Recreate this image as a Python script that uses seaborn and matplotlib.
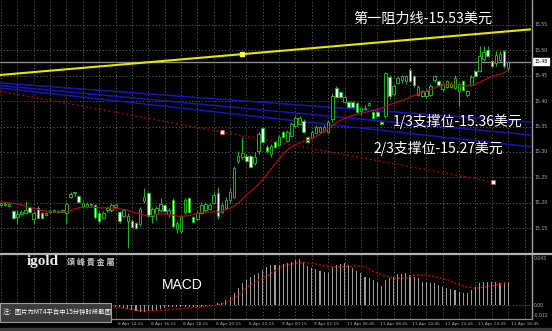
import matplotlib
matplotlib.use("Agg")
import matplotlib.pyplot as plt
import matplotlib.transforms as mtransforms
from matplotlib.lines import Line2D
from matplotlib.patches import Rectangle
import numpy as np
import pandas as pd
import seaborn as sns

# ---------------- data: XAG 15-minute bars ----------------
opens = [
    15.196, 15.195, 15.194, 15.183, 15.172, 15.178, 15.180, 15.192, 15.168, 15.190,
    15.180, 15.176, 15.181, 15.182, 15.181, 15.182, 15.180, 15.212, 15.220, 15.213,
    15.193, 15.192, 15.196, 15.195, 15.180, 15.170, 15.185, 15.185, 15.192, 15.182,
    15.175, 15.165, 15.165, 15.160, 15.158, 15.203, 15.220, 15.174, 15.178, 15.186,
    15.195, 15.178, 15.205, 15.148, 15.145, 15.182, 15.209, 15.173, 15.168, 15.180,
    15.186, 15.188, 15.200, 15.220, 15.182, 15.190, 15.205, 15.212, 15.282, 15.290,
    15.292, 15.292, 15.278, 15.301, 15.348, 15.310, 15.296, 15.320, 15.314, 15.340,
    15.322, 15.332, 15.352, 15.355, 15.362, 15.330, 15.327, 15.337, 15.340, 15.342,
    15.340, 15.365, 15.425, 15.419, 15.399, 15.399, 15.399, 15.396, 15.380, 15.385,
    15.392, 15.379, 15.379, 15.360, 15.370, 15.448, 15.414, 15.436, 15.441, 15.440,
    15.462, 15.449, 15.412, 15.411, 15.410, 15.413, 15.441, 15.440, 15.424, 15.428,
    15.428, 15.426, 15.421, 15.440, 15.412, 15.432, 15.459, 15.460, 15.483, 15.500,
    15.479, 15.475, 15.481, 15.499, 15.466,
]
highs = [
    15.202, 15.201, 15.200, 15.186, 15.185, 15.186, 15.203, 15.194, 15.184, 15.193,
    15.182, 15.182, 15.187, 15.188, 15.186, 15.187, 15.202, 15.221, 15.222, 15.215,
    15.202, 15.201, 15.200, 15.197, 15.182, 15.183, 15.191, 15.200, 15.200, 15.184,
    15.188, 15.180, 15.168, 15.163, 15.192, 15.229, 15.222, 15.192, 15.194, 15.209,
    15.198, 15.190, 15.209, 15.165, 15.176, 15.209, 15.212, 15.175, 15.183, 15.202,
    15.202, 15.200, 15.222, 15.232, 15.202, 15.212, 15.229, 15.272, 15.301, 15.330,
    15.296, 15.294, 15.300, 15.340, 15.350, 15.314, 15.315, 15.322, 15.333, 15.342,
    15.343, 15.360, 15.370, 15.370, 15.364, 15.332, 15.343, 15.353, 15.352, 15.353,
    15.363, 15.416, 15.429, 15.421, 15.412, 15.401, 15.401, 15.398, 15.389, 15.392,
    15.399, 15.381, 15.381, 15.362, 15.458, 15.452, 15.434, 15.450, 15.452, 15.452,
    15.466, 15.452, 15.431, 15.423, 15.424, 15.433, 15.452, 15.442, 15.436, 15.442,
    15.437, 15.451, 15.436, 15.442, 15.423, 15.451, 15.462, 15.508, 15.508, 15.508,
    15.482, 15.499, 15.499, 15.500, 15.480,
]
lows = [
    15.194, 15.193, 15.192, 15.169, 15.158, 15.176, 15.178, 15.180, 15.160, 15.168,
    15.168, 15.174, 15.179, 15.181, 15.180, 15.181, 15.160, 15.210, 15.214, 15.200,
    15.190, 15.190, 15.194, 15.169, 15.160, 15.168, 15.181, 15.181, 15.189, 15.160,
    15.172, 15.112, 15.150, 15.148, 15.155, 15.199, 15.173, 15.160, 15.166, 15.182,
    15.181, 15.173, 15.150, 15.140, 15.140, 15.178, 15.180, 15.160, 15.166, 15.178,
    15.180, 15.185, 15.198, 15.168, 15.180, 15.188, 15.200, 15.209, 15.278, 15.284,
    15.280, 15.268, 15.274, 15.297, 15.317, 15.298, 15.291, 15.308, 15.312, 15.328,
    15.320, 15.330, 15.350, 15.353, 15.338, 15.318, 15.325, 15.335, 15.338, 15.340,
    15.338, 15.360, 15.407, 15.407, 15.396, 15.386, 15.387, 15.377, 15.373, 15.382,
    15.390, 15.364, 15.368, 15.354, 15.366, 15.405, 15.410, 15.434, 15.436, 15.434,
    15.438, 15.428, 15.410, 15.409, 15.407, 15.410, 15.438, 15.429, 15.421, 15.426,
    15.425, 15.424, 15.390, 15.420, 15.409, 15.430, 15.448, 15.458, 15.480, 15.487,
    15.468, 15.470, 15.478, 15.466, 15.460,
]
closes = [
    15.199, 15.198, 15.197, 15.171, 15.178, 15.182, 15.186, 15.182, 15.180, 15.170,
    15.170, 15.179, 15.184, 15.185, 15.184, 15.185, 15.198, 15.218, 15.221, 15.202,
    15.199, 15.198, 15.198, 15.172, 15.165, 15.180, 15.189, 15.195, 15.196, 15.165,
    15.185, 15.175, 15.152, 15.150, 15.188, 15.211, 15.175, 15.188, 15.190, 15.197,
    15.183, 15.186, 15.155, 15.160, 15.172, 15.205, 15.182, 15.163, 15.180, 15.196,
    15.198, 15.195, 15.216, 15.175, 15.195, 15.206, 15.222, 15.268, 15.292, 15.298,
    15.282, 15.270, 15.291, 15.336, 15.320, 15.301, 15.312, 15.310, 15.330, 15.330,
    15.340, 15.356, 15.366, 15.366, 15.340, 15.320, 15.340, 15.350, 15.350, 15.350,
    15.360, 15.410, 15.409, 15.409, 15.409, 15.389, 15.389, 15.379, 15.386, 15.386,
    15.396, 15.366, 15.370, 15.356, 15.455, 15.410, 15.430, 15.446, 15.449, 15.449,
    15.440, 15.431, 15.428, 15.420, 15.420, 15.430, 15.449, 15.431, 15.433, 15.439,
    15.434, 15.445, 15.433, 15.423, 15.420, 15.448, 15.450, 15.489, 15.496, 15.489,
    15.470, 15.490, 15.492, 15.470, 15.478,
]
# moving average drawn over the candles
ma_line = [
    15.202, 15.201, 15.200, 15.199, 15.198, 15.196, 15.193, 15.191, 15.189, 15.187,
    15.185, 15.184, 15.183, 15.182, 15.182, 15.182, 15.183, 15.185, 15.188, 15.190,
    15.191, 15.191, 15.191, 15.191, 15.190, 15.190, 15.190, 15.190, 15.189, 15.188,
    15.187, 15.185, 15.182, 15.180, 15.178, 15.176, 15.174, 15.175, 15.177, 15.178,
    15.178, 15.177, 15.176, 15.174, 15.173, 15.174, 15.175, 15.177, 15.179, 15.182,
    15.182, 15.182, 15.182, 15.182, 15.183, 15.186, 15.189, 15.194, 15.199, 15.207,
    15.215, 15.222, 15.229, 15.236, 15.246, 15.256, 15.266, 15.276, 15.286, 15.296,
    15.304, 15.310, 15.314, 15.318, 15.321, 15.323, 15.326, 15.330, 15.335, 15.340,
    15.346, 15.352, 15.358, 15.362, 15.366, 15.369, 15.372, 15.374, 15.376, 15.378,
    15.380, 15.382, 15.384, 15.386, 15.390, 15.393, 15.396, 15.398, 15.401, 15.404,
    15.408, 15.411, 15.414, 15.417, 15.420, 15.423, 15.426, 15.429, 15.432, 15.433,
    15.433, 15.432, 15.431, 15.430, 15.430, 15.431, 15.433, 15.437, 15.441, 15.445,
    15.448, 15.451, 15.453, 15.456, 15.461,
]
macd_hist = [
    -0.0008, -0.0008, -0.0007, -0.0010, -0.0012, -0.0012, -0.0011, -0.0012, -0.0014, -0.0016,
    -0.0018, -0.0018, -0.0017, -0.0016, -0.0015, -0.0014, -0.0010, -0.0004, 0.0000, 0.0001,
    0.0001, 0.0001, 0.0000, -0.0004, -0.0008, -0.0009, -0.0008, -0.0010, -0.0016, -0.0021,
    -0.0031, -0.0040, -0.0046, -0.0052, -0.0061, -0.0061, -0.0052, -0.0052, -0.0046, -0.0040,
    -0.0031, -0.0021, -0.0021, -0.0015, -0.0015, -0.0021, -0.0021, -0.0021, -0.0015, -0.0015,
    -0.0009, -0.0006, 0.0003, 0.0015, 0.0021, 0.0046, 0.0077, 0.0114, 0.0154, 0.0200,
    0.0230, 0.0261, 0.0276, 0.0292, 0.0322, 0.0353, 0.0368, 0.0370, 0.0368, 0.0378,
    0.0384, 0.0399, 0.0414, 0.0424, 0.0399, 0.0359, 0.0338, 0.0329, 0.0316, 0.0307,
    0.0292, 0.0353, 0.0368, 0.0378, 0.0384, 0.0368, 0.0338, 0.0316, 0.0292, 0.0261,
    0.0246, 0.0230, 0.0215, 0.0175, 0.0230, 0.0246, 0.0261, 0.0286, 0.0286, 0.0292,
    0.0276, 0.0261, 0.0246, 0.0215, 0.0215, 0.0206, 0.0200, 0.0184, 0.0169, 0.0154,
    0.0144, 0.0138, 0.0123, 0.0107, 0.0114, 0.0138, 0.0163, 0.0200, 0.0209, 0.0215,
    0.0215, 0.0215, 0.0200, 0.0215, 0.0210,
]
macd_signal = [
    -0.0012, -0.0012, -0.0012, -0.0012, -0.0012, -0.0012, -0.0012, -0.0012, -0.0013, -0.0013,
    -0.0014, -0.0015, -0.0015, -0.0016, -0.0016, -0.0016, -0.0016, -0.0015, -0.0013, -0.0011,
    -0.0009, -0.0007, -0.0006, -0.0006, -0.0007, -0.0008, -0.0009, -0.0012, -0.0021, -0.0026,
    -0.0031, -0.0036, -0.0041, -0.0046, -0.0050, -0.0053, -0.0053, -0.0052, -0.0050, -0.0048,
    -0.0046, -0.0043, -0.0040, -0.0036, -0.0033, -0.0030, -0.0027, -0.0024, -0.0021, -0.0018,
    -0.0014, -0.0011, -0.0008, 0.0002, 0.0011, 0.0021, 0.0042, 0.0067, 0.0092, 0.0122,
    0.0153, 0.0184, 0.0208, 0.0230, 0.0248, 0.0261, 0.0290, 0.0316, 0.0340, 0.0359,
    0.0370, 0.0378, 0.0384, 0.0388, 0.0390, 0.0387, 0.0382, 0.0378, 0.0368, 0.0359,
    0.0355, 0.0353, 0.0353, 0.0353, 0.0353, 0.0355, 0.0357, 0.0359, 0.0356, 0.0353,
    0.0330, 0.0307, 0.0293, 0.0280, 0.0267, 0.0256, 0.0246, 0.0246, 0.0246, 0.0246,
    0.0261, 0.0276, 0.0276, 0.0276, 0.0276, 0.0268, 0.0261, 0.0252, 0.0244, 0.0236,
    0.0218, 0.0200, 0.0188, 0.0175, 0.0168, 0.0161, 0.0154, 0.0158, 0.0163, 0.0170,
    0.0177, 0.0184, 0.0192, 0.0200, 0.0205,
]

time_label_bars = [28, 36, 44, 52, 60, 68, 76, 84, 92, 100, 108, 116, 124]
time_labels = ["8 Apr 14:15", "8 Apr 16:15", "8 Apr 18:15", "8 Apr 20:15",
               "8 Apr 22:15", "9 Apr 00:15", "9 Apr 02:15", "11 Apr 06:45",
               "11 Apr 08:45", "11 Apr 10:45", "11 Apr 12:45", "11 Apr 14:45",
               "11 Apr 16:45"]
price_ticks = [15.55, 15.50, 15.45, 15.40, 15.35, 15.30, 15.25, 15.20, 15.15]
macd_ticks = [0.043, 0.00]
macd_tick_labels = ["0.043", "0.00"]

# drawn objects: resistance line, fan lines and the fan base line (bar, price anchors)
resistance_bars = [59, 124]
resistance_prices = [15.4926, 15.5376]
fan_bars = [0, 124]
fan_upper = [15.4357, 15.3624]
fan_middle = [15.4307, 15.3377]
fan_lower = [15.4258, 15.3150]
base_bars = [54.0, 120.3]
base_prices = [15.3394, 15.2409]

# annotation texts
resist_text = "第一阻力线-15.53美元"
support1_text = "1/3支撑位-15.36美元"
support2_text = "2/3支撑位-15.27美元"
note_text = "注：图片为MT4平台中15分钟时段截图"

# ---------------- styling ----------------
W, H, DPI = 552, 331, 100
BAR_PX, FIRST_BAR_PX, PLOT_RIGHT_PX = 4.09, 1.0, 531
GREEN = "#22b022"
GRID = "#5c5c5c"
AXTXT = "#b0b0b0"

sns.set_theme(style="dark", rc={"axes.facecolor": "black", "figure.facecolor": "black"})
plt.rcParams["font.family"] = ["Noto Sans CJK SC", "DejaVu Sans"]

fig = plt.figure(figsize=(W / DPI, H / DPI), dpi=DPI, facecolor="black")


def fx(px):
    return px / W


def fy(py):
    return 1 - py / H


ax = fig.add_axes([0, fy(253.5), fx(PLOT_RIGHT_PX), fy(0) - fy(253.5)])
ax2 = fig.add_axes([0, fy(318.5), fx(PLOT_RIGHT_PX), fy(254.5) - fy(318.5)])

xlim = (-FIRST_BAR_PX / BAR_PX, (PLOT_RIGHT_PX - FIRST_BAR_PX) / BAR_PX)
for a in (ax, ax2):
    a.set_facecolor("black")
    a.set_xlim(*xlim)
    a.set_xticks([])
    a.set_yticks([])
    a.grid(False)
    for s in a.spines.values():
        s.set_visible(False)
ax.set_ylim(15.1002, 15.5992)
ax2.set_ylim(-0.0124, 0.0465)

df = pd.DataFrame({"bar": np.arange(len(closes)), "open": opens, "high": highs,
                   "low": lows, "close": closes, "ma": ma_line,
                   "hist": macd_hist, "signal": macd_signal})

# grid
for p in price_ticks:
    ax.axhline(p, color=GRID, lw=0.7, ls=(0, (1.2, 2.2)), zorder=0)
for b in range(0, 132, 4):
    for a in (ax, ax2):
        a.axvline(b, color=GRID, lw=0.7, ls=(0, (1.2, 2.2)), zorder=0)
ax2.axhline(0, color=GRID, lw=0.7, ls=(0, (1.2, 2.2)), zorder=0)

# current price line
ax.axhline(closes[-1], color="#8c8c8c", lw=1.0, zorder=1)

# trend objects
ax.axline((resistance_bars[0], resistance_prices[0]), (resistance_bars[1], resistance_prices[1]),
          color="#e6e600", lw=1.5, zorder=2)
ax.plot([resistance_bars[0]], [resistance_prices[0]], "s", ms=2.4, color="#ffff40", zorder=6)
for line in (fan_upper, fan_middle, fan_lower):
    ax.axline((fan_bars[0], line[0]), (fan_bars[1], line[1]), color="#1616b8", lw=1.1, zorder=2)
slope = (base_prices[1] - base_prices[0]) / (base_bars[1] - base_bars[0])
left_price = base_prices[0] + slope * (xlim[0] - base_bars[0])
ax.plot([xlim[0], base_bars[1]], [left_price, base_prices[1]], color="#a00000", lw=1.0,
        ls=(0, (1.5, 1.8)), zorder=2)
ax.plot(base_bars, base_prices, "s", ms=2.2, mfc="white", mec="#d04040", mew=0.6, zorder=6)

# candles
up = df["close"] >= df["open"]
ax.vlines(df["bar"], df["low"], df["high"], color=GREEN, lw=0.8, zorder=3)
body_lo = np.minimum(df["open"], df["close"])
body_h = np.maximum((df["close"] - df["open"]).abs(), 0.0008)
ax.bar(df["bar"], body_h, bottom=body_lo, width=0.62,
       color=np.where(up, "black", "white"), edgecolor=GREEN, linewidth=0.7, zorder=4)

# moving average
sns.lineplot(data=df, x="bar", y="ma", ax=ax, color="#a80f0f", lw=0.9, zorder=5, legend=False)

# MACD histogram + signal
ax2.bar(df["bar"], df["hist"], width=0.26, color="#9c9c9c", linewidth=0, zorder=2)
sns.lineplot(data=df, x="bar", y="signal", ax=ax2, color="#d00000", lw=1.0,
             ls=(0, (1.4, 1.4)), zorder=3, legend=False)
for a in (ax, ax2):
    a.set_xlabel("")
    a.set_ylabel("")

# frame lines
fig.add_artist(Line2D([fx(531.5), fx(531.5)], [fy(0), fy(319)], color="#a0a0a0", lw=1.0))
fig.add_artist(Line2D([0, 1], [fy(254), fy(254)], color="#b4b4b4", lw=1.6))
fig.add_artist(Line2D([0, fx(531.5)], [fy(319), fy(319)], color="#8c8c8c", lw=0.9))
fig.add_artist(Rectangle((0, 0), 1, fy(328), transform=fig.transFigure, color="#3a3a3a", zorder=0))

# price scale
tr_price = mtransforms.blended_transform_factory(fig.transFigure, ax.transData)
for p in price_ticks:
    ax.text(fx(534), p, f"{p:.2f}", transform=tr_price, fontsize=3.3, color=AXTXT,
            va="center", ha="left", family="DejaVu Sans", clip_on=False)
ax.text(fx(534), closes[-1], f"{closes[-1]:.2f}", transform=tr_price, fontsize=3.3,
        color="black", va="center", ha="left", family="DejaVu Sans", clip_on=False,
        bbox=dict(boxstyle="square,pad=0.3", fc="white", ec="white"))

tr_macd = mtransforms.blended_transform_factory(fig.transFigure, ax2.transData)
for v, t in zip(macd_ticks, macd_tick_labels):
    ax2.text(fx(534), v, t, transform=tr_macd, fontsize=3.3, color=AXTXT,
             va="center", ha="left", family="DejaVu Sans", clip_on=False)
ax2.text(fx(534), -0.0122, "-0.012", transform=tr_macd, fontsize=3.3, color=AXTXT,
         va="bottom", ha="left", family="DejaVu Sans", clip_on=False)

# time scale
tr_time = mtransforms.blended_transform_factory(ax2.transData, fig.transFigure)
for b, t in zip(time_label_bars, time_labels):
    ax2.text(b + 0.6, fy(324), t, transform=tr_time, fontsize=3.1, color=AXTXT,
             va="center", ha="left", family="DejaVu Sans", clip_on=False)

# annotations
fig.text(fx(353), fy(18.5), resist_text, color="white", fontsize=10.2, va="center", ha="left")
fig.text(fx(393), fy(121.5), support1_text, color="white", fontsize=10.0, va="center", ha="left")
fig.text(fx(373), fy(148), support2_text, color="white", fontsize=10.0, va="center", ha="left")
fig.text(fx(162), fy(285), "MACD", color="white", fontsize=10, va="center", ha="left",
         family="Liberation Sans")

# logo
fig.text(fx(27), fy(262), "igold", color="#ececec", fontsize=11, fontweight="bold",
         va="center", ha="left", family="Liberation Serif")
fig.text(fx(67), fy(262.5), "頌 峰 貴 金 屬", color="#c8c8c8", fontsize=5.8, fontweight="bold",
         va="center", ha="left", family=["Noto Sans CJK TC", "DejaVu Sans"])

# note box
fig.add_artist(Rectangle((0, fy(322)), fx(111), fy(303) - fy(322), transform=fig.transFigure,
                         facecolor="#3c3c3c", edgecolor="#9c9c9c", lw=0.8, zorder=10))
fig.text(fx(3), fy(312), note_text, color="white", fontsize=4.6, va="center", ha="left", zorder=11)

fig.savefig("out.png", dpi=DPI, facecolor="black")
